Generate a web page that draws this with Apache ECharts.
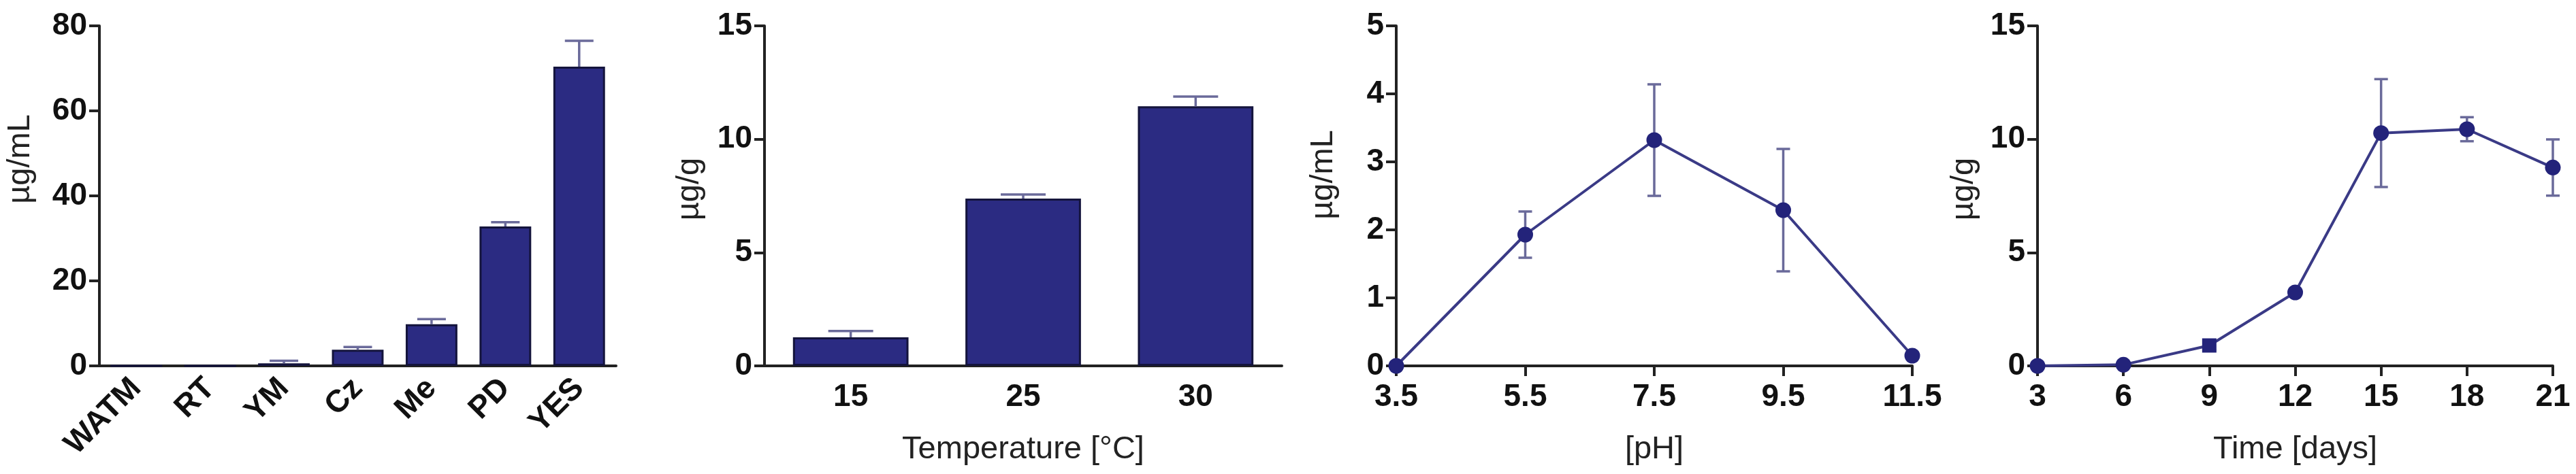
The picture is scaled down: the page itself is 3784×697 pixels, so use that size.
<!DOCTYPE html>
<html><head><meta charset="utf-8">
<script src="https://cdn.jsdelivr.net/npm/echarts@6/dist/echarts.min.js"></script>
<style>html,body{margin:0;padding:0;background:#fff}#c{width:3784px;height:697px}</style>
</head><body><div id="c"></div>
<script>
// ---- data ----
const mediaCats = ['WATM', 'RT', 'YM', 'Cz', 'Me', 'PD', 'YES'];
const mediaVals = [0, 0, 0.6, 3.8, 9.8, 32.8, 70.4];
const mediaErr  = [0, 0, 0.6, 0.65, 1.2, 1.0, 6.1];

const tempCats = ['15', '25', '30'];
const tempVals = [1.26, 7.38, 11.45];
const tempErr  = [0.28, 0.18, 0.43];

const phX    = [3.5, 5.5, 7.5, 9.5, 11.5];
const phVals = [0, 1.93, 3.32, 2.29, 0.15];
const phErr  = [0, 0.34, 0.82, 0.90, 0];

const dayX    = [3, 6, 9, 12, 15, 18, 21];
const dayVals = [0, 0.05, 0.9, 3.24, 10.27, 10.44, 8.75];
const dayErr  = [0, 0, 0.2, 0, 2.38, 0.53, 1.24];
const daySymbols = ['circle', 'circle', 'rect', 'circle', 'circle', 'circle', 'circle'];

// ---- style ----
const FONT = 'Liberation Sans, Arial, Helvetica, sans-serif';
const AXIS_COLOR = '#222';
const BAR_FILL = '#2b2b82';
const BAR_BORDER = '#14143c';
const ERR_COLOR = '#6a6a9a';
const LINE_COLOR = '#3a3a86';
const MARK_COLOR = '#23237a';
const TOP = 38, H = 500;

function errRender(capW, upOnly) {
  return function (params, api) {
    const x = api.value(0), y = api.value(1), e = api.value(2);
    if (!e) return null;
    const t = api.coord([x, y + e]);
    const b = api.coord([x, upOnly ? y : y - e]);
    const style = { stroke: ERR_COLOR, lineWidth: 3.5, fill: null };
    const ch = [
      { type: 'line', shape: { x1: t[0], y1: t[1], x2: b[0], y2: b[1] }, style: style },
      { type: 'line', shape: { x1: t[0] - capW / 2, y1: t[1], x2: t[0] + capW / 2, y2: t[1] }, style: style }
    ];
    if (!upOnly) ch.push({ type: 'line', shape: { x1: b[0] - capW / 2, y1: b[1], x2: b[0] + capW / 2, y2: b[1] }, style: style });
    return { type: 'group', children: ch };
  };
}

const tickLabel = { fontFamily: FONT, fontWeight: 'bold', fontSize: 46, color: '#111' };
const axisLine = { show: true, lineStyle: { color: AXIS_COLOR, width: 4 } };
const axisTick = { show: true, length: 15, lineStyle: { color: AXIS_COLOR, width: 4 } };
const nameStyle = { fontFamily: FONT, fontSize: 47, color: '#222' };

function yAxis(idx, max, interval) {
  return {
    type: 'value', gridIndex: idx, min: 0, max: max, interval: interval,
    axisLine: axisLine, axisTick: axisTick, splitLine: { show: false },
    axisLabel: Object.assign({ margin: 18 }, tickLabel)
  };
}

const option = {
  animation: false,
  backgroundColor: '#fff',
  grid: [
    { left: 146, top: TOP, width: 759, height: H },
    { left: 1123, top: TOP, width: 760, height: H },
    { left: 2051, top: TOP, width: 758, height: H },
    { left: 2993, top: TOP, width: 757, height: H }
  ],
  xAxis: [
    { type: 'category', gridIndex: 0, data: mediaCats, axisLine: axisLine, axisTick: { show: false },
      axisLabel: Object.assign({ rotate: 45, margin: 26, interval: 0 }, tickLabel) },
    { type: 'category', gridIndex: 1, data: tempCats, axisLine: axisLine, axisTick: { show: false },
      axisLabel: Object.assign({ margin: 23 }, tickLabel),
      name: 'Temperature [°C]', nameLocation: 'middle', nameGap: 100, nameTextStyle: nameStyle },
    { type: 'value', gridIndex: 2, min: 3.5, max: 11.5, interval: 2, axisLine: axisLine, axisTick: axisTick,
      splitLine: { show: false }, axisLabel: Object.assign({ margin: 23 }, tickLabel),
      name: '[pH]', nameLocation: 'middle', nameGap: 100, nameTextStyle: nameStyle },
    { type: 'value', gridIndex: 3, min: 3, max: 21, interval: 3, axisLine: axisLine, axisTick: axisTick,
      splitLine: { show: false }, axisLabel: Object.assign({ margin: 23 }, tickLabel),
      name: 'Time [days]', nameLocation: 'middle', nameGap: 100, nameTextStyle: nameStyle }
  ],
  yAxis: [yAxis(0, 80, 20), yAxis(1, 15, 5), yAxis(2, 5, 1), yAxis(3, 15, 5)],
  graphic: [
    { type: 'text', x: 30, y: 234, rotation: Math.PI / 2, style: { text: 'µg/mL', font: '47px ' + FONT, fill: '#222', align: 'center', verticalAlign: 'middle' } },
    { type: 'text', x: 1013, y: 278, rotation: Math.PI / 2, style: { text: 'µg/g', font: '47px ' + FONT, fill: '#222', align: 'center', verticalAlign: 'middle' } },
    { type: 'text', x: 1944, y: 257, rotation: Math.PI / 2, style: { text: 'µg/mL', font: '47px ' + FONT, fill: '#222', align: 'center', verticalAlign: 'middle' } },
    { type: 'text', x: 2885, y: 278, rotation: Math.PI / 2, style: { text: 'µg/g', font: '47px ' + FONT, fill: '#222', align: 'center', verticalAlign: 'middle' } }
  ],
  series: [
    { type: 'bar', xAxisIndex: 0, yAxisIndex: 0, data: mediaVals, barWidth: '70%',
      itemStyle: { color: BAR_FILL, borderColor: BAR_BORDER, borderWidth: 3 }, z: 2 },
    { type: 'custom', xAxisIndex: 0, yAxisIndex: 0, renderItem: errRender(42, true),
      data: mediaCats.map((c, i) => [i, mediaVals[i], mediaErr[i]]), encode: { x: 0, y: 1 }, z: 3 },

    { type: 'bar', xAxisIndex: 1, yAxisIndex: 1, data: tempVals, barWidth: '67%',
      itemStyle: { color: BAR_FILL, borderColor: BAR_BORDER, borderWidth: 3 }, z: 2 },
    { type: 'custom', xAxisIndex: 1, yAxisIndex: 1, renderItem: errRender(66, true),
      data: tempCats.map((c, i) => [i, tempVals[i], tempErr[i]]), encode: { x: 0, y: 1 }, z: 3 },

    { type: 'custom', xAxisIndex: 2, yAxisIndex: 2, renderItem: errRender(20, false),
      data: phX.map((x, i) => [x, phVals[i], phErr[i]]), encode: { x: 0, y: 1 }, z: 2 },
    { type: 'line', xAxisIndex: 2, yAxisIndex: 2, data: phX.map((x, i) => [x, phVals[i]]),
      symbol: 'circle', symbolSize: 23, clip: false,
      lineStyle: { color: LINE_COLOR, width: 4 }, itemStyle: { color: MARK_COLOR }, z: 3 },

    { type: 'custom', xAxisIndex: 3, yAxisIndex: 3, renderItem: errRender(20, false),
      data: dayX.map((x, i) => [x, dayVals[i], dayErr[i]]), encode: { x: 0, y: 1 }, z: 2 },
    { type: 'line', xAxisIndex: 3, yAxisIndex: 3,
      data: dayX.map((x, i) => ({ value: [x, dayVals[i]], symbol: daySymbols[i], symbolSize: daySymbols[i] === 'rect' ? 21 : 23 })),
      clip: false, lineStyle: { color: LINE_COLOR, width: 4 }, itemStyle: { color: MARK_COLOR }, z: 3 }
  ]
};
const chart = echarts.init(document.getElementById('c'), null, { renderer: 'canvas' });
chart.setOption(option);
</script>
</body></html>
